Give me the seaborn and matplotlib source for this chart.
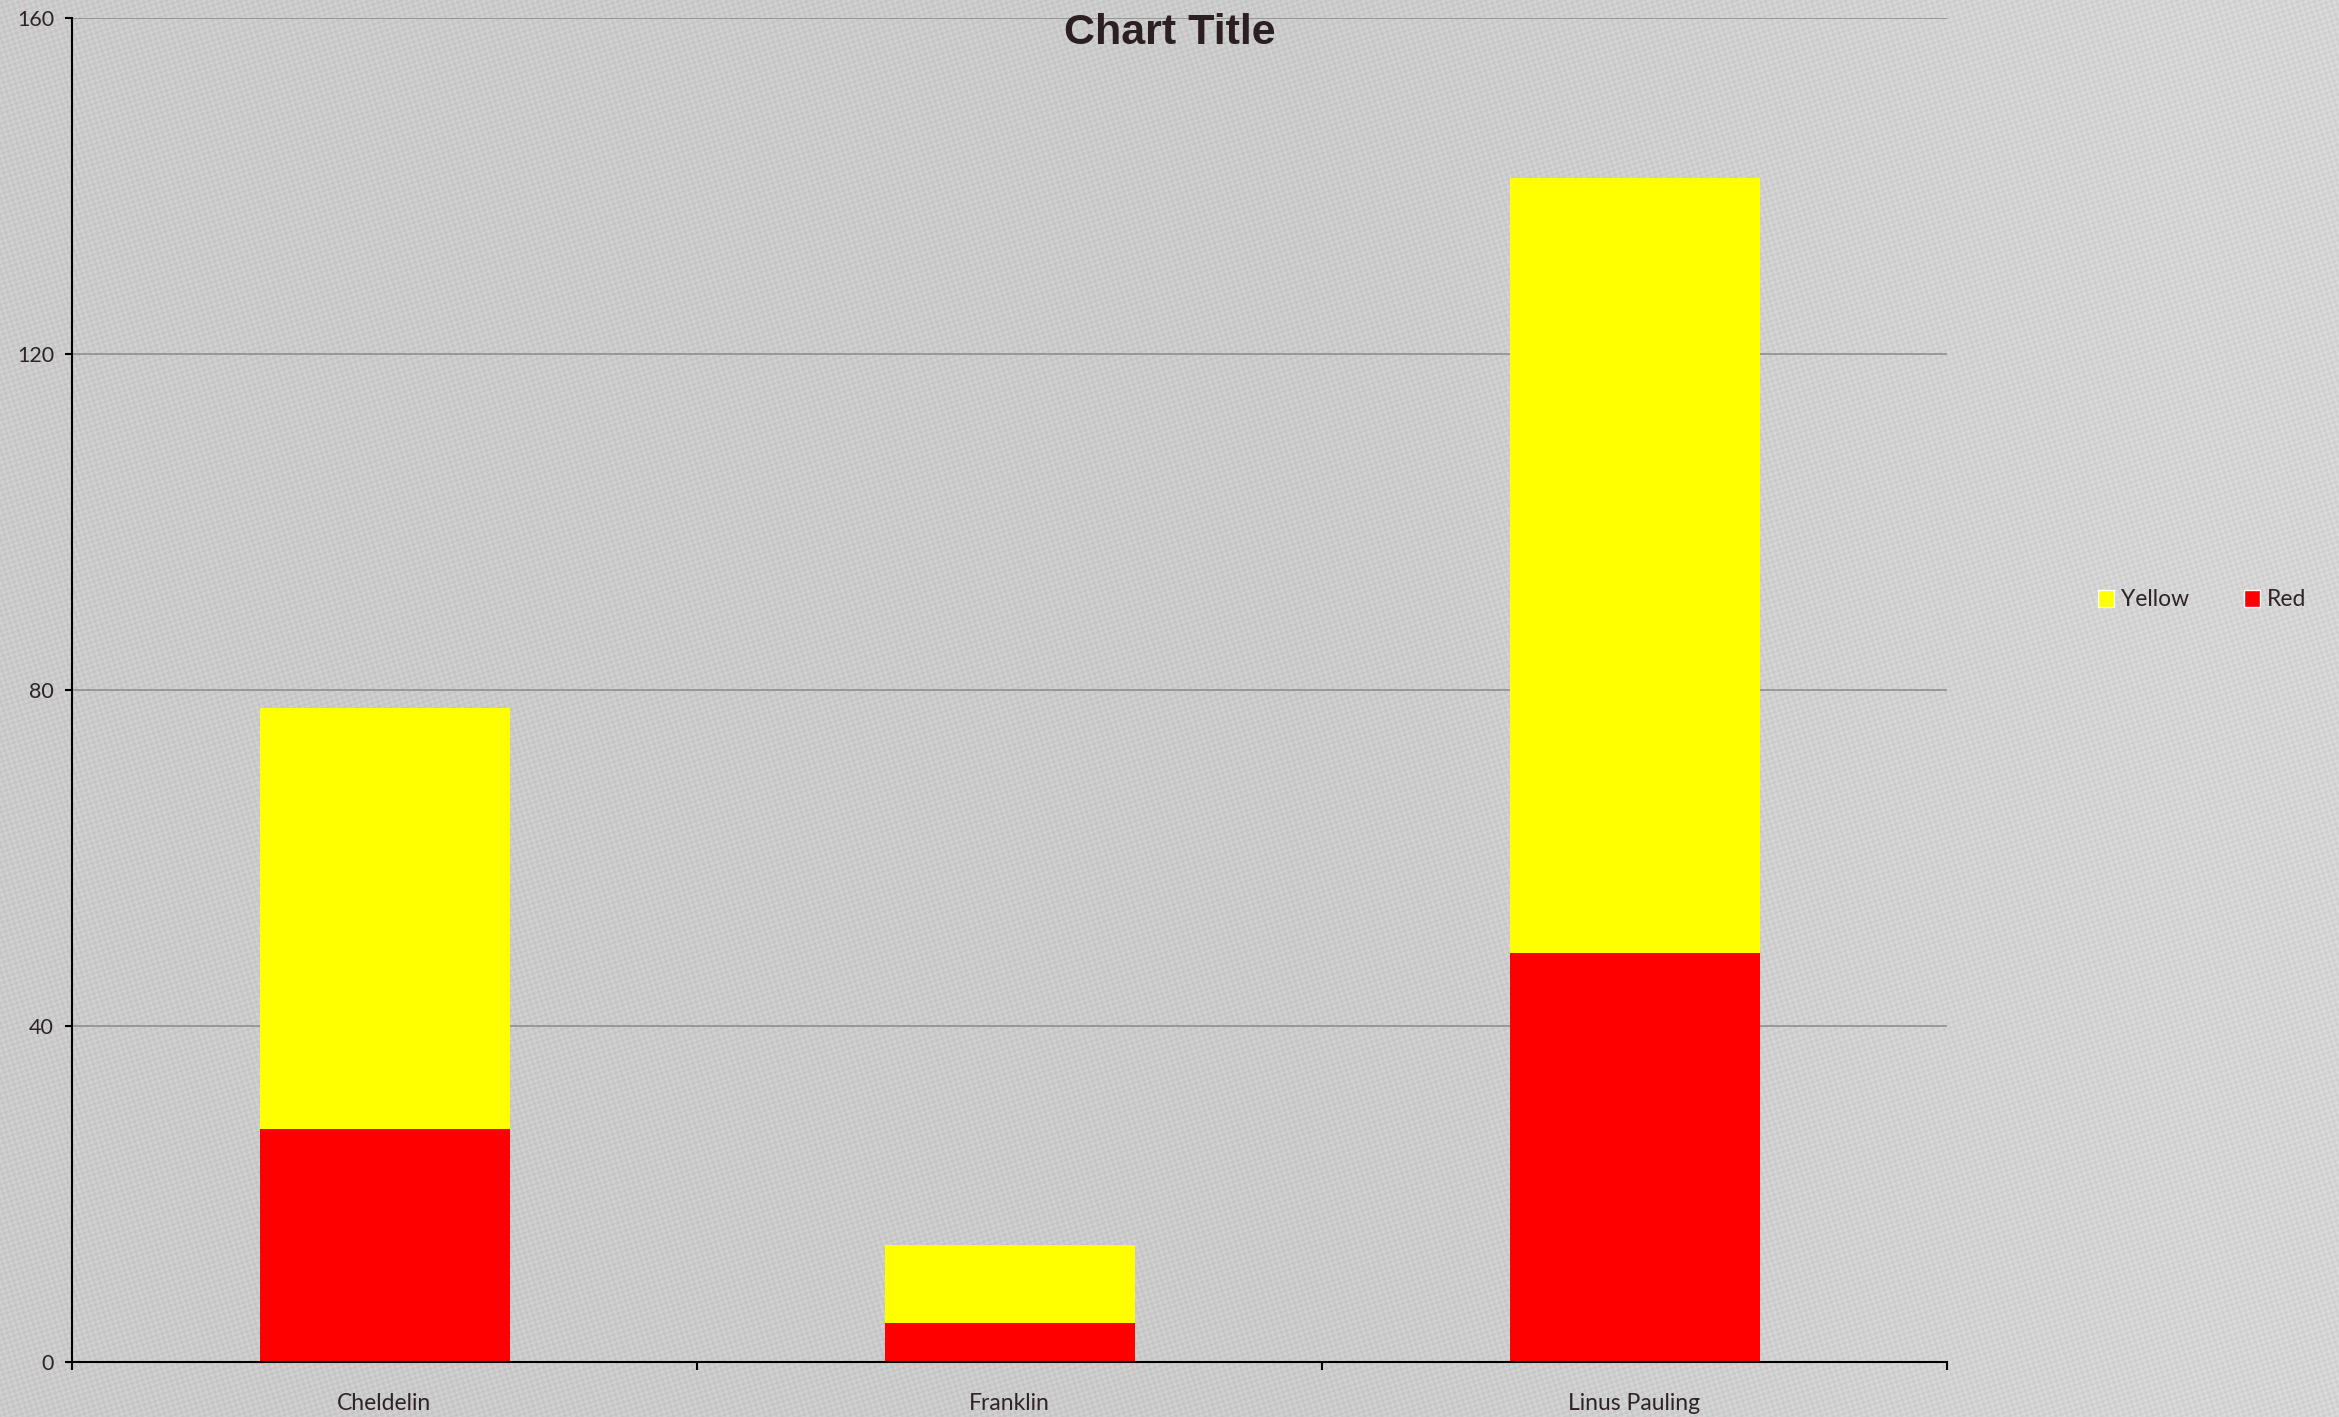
import numpy as np
import pandas as pd
import matplotlib
matplotlib.use("Agg")
import matplotlib.pyplot as plt
import seaborn as sns
from matplotlib.patches import Patch

# Datos
categorias = ["Cheldelin", "Franklin", "Linus Pauling"]
rojo = [27.7, 4.6, 48.7]
amarillo = [50.2, 9.3, 92.2]
ticks_y = [0, 40, 80, 120, 160]

sns.set_theme(style="white")
plt.rcParams["font.family"] = ["Lato", "DejaVu Sans"]

color_texto = "#2e2326"
ancho, alto, dpi = 2339, 1417, 100

fig = plt.figure(figsize=(ancho / dpi, alto / dpi), dpi=dpi)
fig.patch.set_facecolor("#cdcdcd")

# Fondo tipo lienzo (patrón regular, no datos)
yy, xx = np.mgrid[0:alto, 0:ancho]
trama = np.sin(xx * 0.75 + yy * 0.45) * np.sin(xx * 0.35 - yy * 0.8)
base = 203 + 10 * np.clip((xx - 1300) / 900.0, 0, 1)
fondo = np.clip(base + 9 * trama, 0, 255).astype(np.uint8)
fig.figimage(np.dstack([fondo] * 3), xo=0, yo=0, origin="upper", zorder=-10)

ax = fig.add_axes([72 / ancho, 1 - 1362 / alto, (1947 - 72) / ancho, (1362 - 18) / alto])
ax.set_facecolor("none")

df = pd.DataFrame({"categoria": categorias, "rojo": rojo, "amarillo": amarillo})
df["total"] = df["rojo"] + df["amarillo"]

sns.barplot(data=df, x="categoria", y="total", color="#ffff00", width=0.4,
            saturation=1, linewidth=0, ax=ax, zorder=3)
sns.barplot(data=df, x="categoria", y="rojo", color="#ff0000", width=0.4,
            saturation=1, linewidth=0, ax=ax, zorder=3)

ax.set_xlim(-0.5, len(categorias) - 0.5)
ax.set_ylim(0, 160)
ax.set_yticks(ticks_y)
ax.set_yticklabels([str(t) for t in ticks_y])
ax.set_xlabel("")
ax.set_ylabel("")

# Cuadrícula
for t in ticks_y[1:]:
    ax.axhline(t, color="#8a8a8a", linewidth=1.1, zorder=1)

for lado in ["top", "right"]:
    ax.spines[lado].set_visible(False)
for lado in ["left", "bottom"]:
    ax.spines[lado].set_color("black")
    ax.spines[lado].set_linewidth(1.5)
    ax.spines[lado].set_zorder(5)

ax.tick_params(axis="y", left=True, length=5, width=1.5, color="black",
               labelsize=15.5, labelcolor=color_texto, pad=8)
ax.tick_params(axis="x", which="major", bottom=False, length=0,
               labelsize=16.5, labelcolor=color_texto, pad=22)
ax.set_xticks(np.arange(-0.5, len(categorias)), minor=True)
ax.tick_params(axis="x", which="minor", bottom=True, length=6, width=1.5, color="black")

fig.text(0.5, 1 - 33 / alto, "Chart Title", ha="center", va="center",
         fontsize=31, fontweight="bold", color="#2b1f22",
         family=["Liberation Sans", "DejaVu Sans"])

handles = [Patch(facecolor="#ffff00", label="Yellow"),
           Patch(facecolor="#ff0000", label="Red")]
fig.legend(handles=handles, loc="center left", bbox_to_anchor=(0.888, 1 - 600 / alto),
           ncol=2, frameon=False, fontsize=16.5, labelcolor=color_texto,
           handlelength=0.7, handleheight=0.7, handletextpad=0.3, columnspacing=2.4)

fig.savefig("out.png", dpi=dpi)
